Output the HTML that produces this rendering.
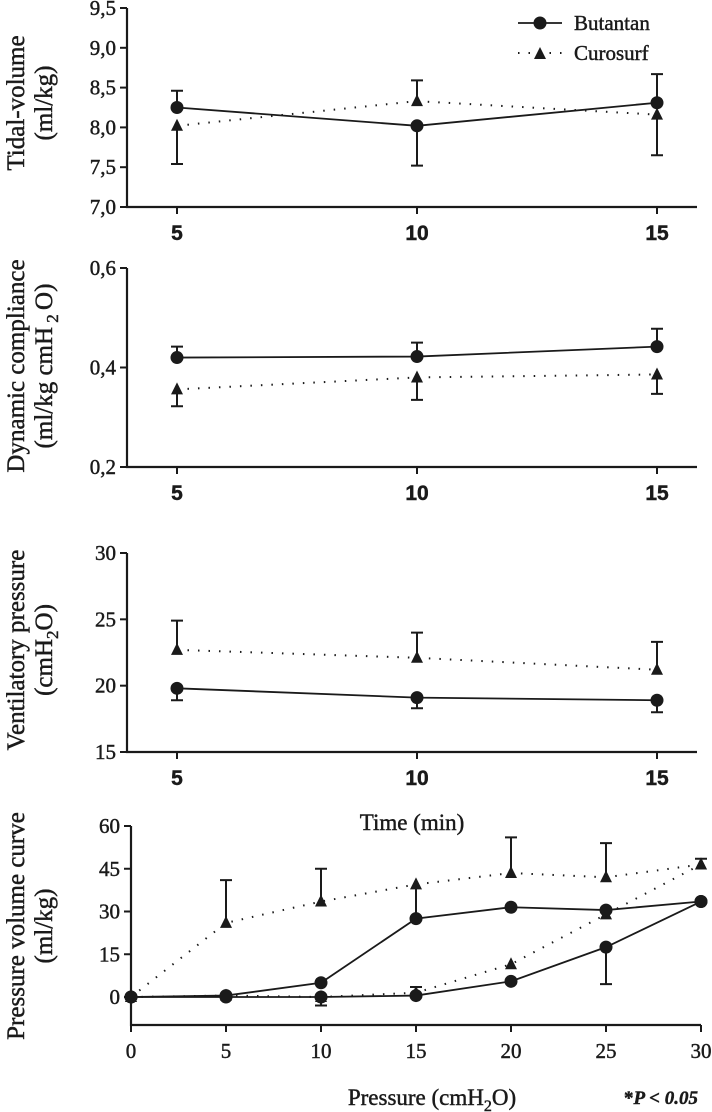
<!DOCTYPE html>
<html><head><meta charset="utf-8"><style>
html,body{margin:0;padding:0;background:#fff;}
svg{display:block;font-family:"Liberation Serif",serif;}
svg text{stroke:#1a1a1a;stroke-width:0.45px;}
</style></head><body>
<svg id="chart" width="712" height="1112" xmlns="http://www.w3.org/2000/svg"></svg>
<script>
// ---- data ----
const timeCats = [5, 10, 15];
const tvButantan = [8.25, 8.02, 8.31];
const tvButantanErr = [8.46, 7.52, 8.67];
const tvCurosurf = [8.02, 8.33, 8.16];
const tvCurosurfErr = [7.54, 8.59, 7.65];
const tvTicks = ["7,0","7,5","8,0","8,5","9,0","9,5"];
const tvTickVals = [7.0, 7.5, 8.0, 8.5, 9.0, 9.5];

const dcButantan = [0.42, 0.422, 0.442];
const dcButantanErr = [0.442, 0.45, 0.478];
const dcCurosurf = [0.356, 0.38, 0.386];
const dcCurosurfErr = [0.322, 0.335, 0.347];
const dcTicks = ["0,2","0,4","0,6"];
const dcTickVals = [0.2, 0.4, 0.6];

const vpButantan = [19.8, 19.1, 18.9];
const vpButantanErr = [18.9, 18.3, 18.0];
const vpCurosurf = [22.7, 22.1, 21.2];
const vpCurosurfErr = [24.9, 24.0, 23.3];
const vpTicks = ["15","20","25","30"];
const vpTickVals = [15, 20, 25, 30];

const pvCats = [0, 5, 10, 15, 20, 25, 30];
const pvButantanA = [0, 0.5, 5, 27.5, 31.5, 30.5, 33.5];
const pvButantanB = [0, 0, 0, 0.5, 5.5, 17.5, 33.5];
const pvButantanBErr = [0, 0, 0, 0.5, 5.5, 4.5, 33.5];
const pvCurosurfA = [0, 26, 33.5, 39.5, 43.5, 42, 46.5];
const pvCurosurfAErr = [0, 41, 45, 27.5, 56, 54, 48.5];
const pvCurosurfB = [0, 0.5, 0, 1.5, 11.5, 29, 46.5];
const pvCurosurfBErr = [0, 0.5, -3, 3.5, 11.5, 29, 46.5];
const pvTicks = ["0","15","30","45","60"];
const pvTickVals = [0, 15, 30, 45, 60];
const pvXTicks = ["0","5","10","15","20","25","30"];

// ---- drawing ----
const svg = document.getElementById('chart');
const NS = 'http://www.w3.org/2000/svg';
function mk(tag, attrs, parent){
  const e = document.createElementNS(NS, tag);
  for (const k in attrs) e.setAttribute(k, attrs[k]);
  (parent||svg).appendChild(e);
  return e;
}
function txt(s, x, y, size, anchor, weight, family, parent){
  const t = mk('text', {x:x, y:y, 'font-size':size, 'text-anchor':anchor||'middle', 'font-weight':weight||'normal', fill:'#1a1a1a'}, parent);
  if (family) t.setAttribute('font-family', family);
  t.textContent = s;
  return t;
}
function marker(kind, x, y, g){
  let m;
  if (kind === 'circle') m = mk('circle', {cx:x, cy:y, r:6.5, fill:'#1a1a1a'}, g);
  else m = mk('polygon', {points:(x)+','+(y-7)+' '+(x-6)+','+(y+5)+' '+(x+6)+','+(y+5), fill:'#1a1a1a'}, g);
  return m;
}
function series(g, xs, ys, errs, sx, sy, kind, dotted, name){
  const s = mk('g', {}, g);
  
  
  let pts = xs.map((x,i)=>sx(x)+','+sy(ys[i])).join(' ');
  const pl = mk('polyline', {points:pts, fill:'none', stroke:'#1a1a1a', 'stroke-width': dotted?2:1.8, 'stroke-dasharray': dotted?'1.5 9':'none'}, s);
  
  
  if (errs) xs.forEach((x,i)=>{
    if (errs[i] === ys[i]) return;
    const X = sx(x), Y1 = sy(ys[i]), Y2 = sy(errs[i]);
    const eb = mk('path', {d:'M'+X+','+Y1+'V'+Y2+'M'+(X-6)+','+Y2+'H'+(X+6), stroke:'#1a1a1a', 'stroke-width':2, fill:'none'}, s);
    
    
  });
  xs.forEach((x,i)=>{
    const m = marker(kind, sx(x), sy(ys[i]), s);
    
    
  });
}
function panel(o){
  const g = mk('g', {});
  
  
  const sx = v => o.x0 + (v - o.xmin) / (o.xmax - o.xmin) * (o.x1 - o.x0);
  const sy = v => o.yb - (v - o.ymin) / (o.ymax - o.ymin) * (o.yb - o.yt);
  const ax = mk('path', {d:'M'+o.axL+','+o.yt+'V'+o.axB+'H'+o.axR, stroke:'#1a1a1a', 'stroke-width':2.2, fill:'none'}, g);
  
  
  o.yTickVals.forEach((v,i)=>{
    mk('line', {x1:o.axL-7, x2:o.axL, y1:sy(v), y2:sy(v), stroke:'#1a1a1a', 'stroke-width':2}, g);
    const t = txt(o.yTicks[i], o.axL-11, sy(v)+7, 21, 'end', 'normal', null, g);
    
    
  });
  o.xTickVals.forEach((v,i)=>{
    mk('line', {x1:sx(v), x2:sx(v), y1:o.axB, y2:o.axB+7, stroke:'#1a1a1a', 'stroke-width':2}, g);
    const t = txt(o.xTicks[i], sx(v), o.axB+33, 21, 'middle', o.xBold?'bold':'normal', o.xBold?'"Liberation Sans", sans-serif':null, g);
    
    
  });
  const tg = mk('g', {transform:'translate(0,'+o.tcy+') rotate(-90)'}, g);
  
  
  txt(o.t1, 0, 24, 25, 'middle', 'normal', null, tg);
  const t2 = txt('', 0, 52, 25, 'middle', 'normal', null, tg);
  t2.innerHTML = o.t2;
  o.series.forEach(s => series(g, s.xs, s.ys, s.errs, sx, sy, s.kind, s.dotted, s.name));
  return g;
}
panel({name:'tidal-volume-panel', x0:177, x1:657, xmin:5, xmax:15, yt:8, yb:207, ymin:7, ymax:9.5,
  axL:127, axR:697, axB:207, yTicks:tvTicks, yTickVals:tvTickVals, xTicks:timeCats.map(String), xTickVals:timeCats, xBold:true,
  tcy:103, t1:'Tidal-volume', t2:'(ml/kg)',
  series:[{xs:timeCats, ys:tvCurosurf, errs:tvCurosurfErr, kind:'tri', dotted:true, name:'curosurf-series'},
          {xs:timeCats, ys:tvButantan, errs:tvButantanErr, kind:'circle', dotted:false, name:'butantan-series'}]});
panel({name:'dynamic-compliance-panel', x0:177, x1:657, xmin:5, xmax:15, yt:268, yb:467, ymin:0.2, ymax:0.6,
  axL:127, axR:697, axB:467, yTicks:dcTicks, yTickVals:dcTickVals, xTicks:timeCats.map(String), xTickVals:timeCats, xBold:true,
  tcy:366, t1:'Dynamic compliance', t2:'(ml/kg cmH<tspan font-size="17" dy="6"> 2 </tspan><tspan dy="-6">O)</tspan>',
  series:[{xs:timeCats, ys:dcCurosurf, errs:dcCurosurfErr, kind:'tri', dotted:true, name:'curosurf-series'},
          {xs:timeCats, ys:dcButantan, errs:dcButantanErr, kind:'circle', dotted:false, name:'butantan-series'}]});
panel({name:'ventilatory-pressure-panel', x0:177, x1:657, xmin:5, xmax:15, yt:553, yb:752, ymin:15, ymax:30,
  axL:127, axR:697, axB:752, yTicks:vpTicks, yTickVals:vpTickVals, xTicks:timeCats.map(String), xTickVals:timeCats, xBold:true,
  tcy:650, t1:'Ventilatory pressure', t2:'(cmH<tspan font-size="17" dy="6">2</tspan><tspan dy="-6">O)</tspan>',
  series:[{xs:timeCats, ys:vpCurosurf, errs:vpCurosurfErr, kind:'tri', dotted:true, name:'curosurf-series'},
          {xs:timeCats, ys:vpButantan, errs:vpButantanErr, kind:'circle', dotted:false, name:'butantan-series'}]});
panel({name:'pressure-volume-panel', x0:131, x1:701, xmin:0, xmax:30, yt:826, yb:997, ymin:0, ymax:60,
  axL:131, axR:701, axB:1025, yTicks:pvTicks, yTickVals:pvTickVals, xTicks:pvXTicks, xTickVals:pvCats, xBold:false,
  tcy:926, t1:'Pressure volume curve', t2:'(ml/kg)',
  series:[{xs:pvCats, ys:pvCurosurfA, errs:pvCurosurfAErr, kind:'tri', dotted:true, name:'curosurf-inflation-series'},
          {xs:pvCats, ys:pvCurosurfB, errs:pvCurosurfBErr, kind:'tri', dotted:true, name:'curosurf-deflation-series'},
          {xs:pvCats, ys:pvButantanA, errs:null, kind:'circle', dotted:false, name:'butantan-inflation-series'},
          {xs:pvCats, ys:pvButantanB, errs:pvButantanBErr, kind:'circle', dotted:false, name:'butantan-deflation-series'}]});

// titles
let t = txt('Time (min)', 412, 830, 23);


t = txt('', 432, 1105, 23);
t.innerHTML = 'Pressure (cmH<tspan font-size="16" dy="6">2</tspan><tspan dy="-6">O)</tspan>';


t = txt('', 698, 1104, 19, 'end', 'bold');
t.innerHTML = '*<tspan font-style="italic">P &lt; 0.05</tspan>';



// legend
const lg = mk('g', {});


const l1 = mk('g', {}, lg);


mk('line', {x1:518, x2:562, y1:23, y2:23, stroke:'#1a1a1a', 'stroke-width':1.8}, l1);
marker('circle', 540, 23, l1);
txt('Butantan', 574, 30, 21, 'start', 'normal', null, l1);
const l2 = mk('g', {}, lg);


mk('line', {x1:518, x2:562, y1:53, y2:53, stroke:'#1a1a1a', 'stroke-width':2, 'stroke-dasharray':'1.5 9'}, l2);
marker('tri', 540, 54, l2);
txt('Curosurf', 574, 60, 21, 'start', 'normal', null, l2);
</script>
</body></html>
